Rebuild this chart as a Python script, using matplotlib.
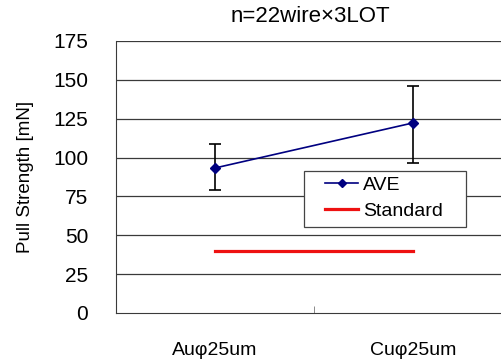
import matplotlib.pyplot as plt
from matplotlib.patches import Rectangle
import numpy as np

plt.rcParams['font.family'] = ['Liberation Sans', 'DejaVu Sans']

categories = ['Auφ25um', 'Cuφ25um']
ave = [93.3, 122.3]
err_high = [108.7, 146.0]
err_low = [79.1, 96.5]
standard = [40, 40]
yticks = [0, 25, 50, 75, 100, 125, 150, 175]

W, H = 501, 360
x = np.arange(len(categories))
ave = np.array(ave)
yerr = [ave - np.array(err_low), np.array(err_high) - ave]

fig = plt.figure(figsize=(W / 100, H / 100), dpi=100)
ax = fig.add_axes([116 / W, 47 / H, 396 / W, 272 / H])

# grid lines drawn as plain horizontal lines
for t in yticks[1:]:
    ax.axhline(t, color='#3a3a3a', lw=0.9, zorder=0)

ax.errorbar(x, ave, yerr=yerr, fmt='none', ecolor='black', elinewidth=1.2,
            capsize=4, capthick=1.2, zorder=2)
ax.plot(x, ave, color='#000080', marker='D', markersize=5.5, lw=1.2,
        label='AVE', zorder=3)
ax.plot(x, standard, color='#ee1111', lw=2.3, label='Standard', zorder=3)

ax.set_xlim(-0.5, 1.5)
ax.set_ylim(0, 175)
ax.set_yticks(yticks)
ax.set_xticks(x)
ax.set_xticklabels(categories)
ax.set_xticks([0.5], minor=True)
ax.tick_params(axis='x', which='major', length=0, pad=21, labelsize=14)
ax.tick_params(axis='x', which='minor', length=5, direction='in', color='#777777')
ax.tick_params(axis='y', length=0, pad=20, labelsize=15)

for side in ['top', 'right']:
    ax.spines[side].set_visible(False)
ax.spines['left'].set_color('#3a3a3a')
ax.spines['bottom'].set_color('#3a3a3a')

ax.set_ylabel('Pull Strength [mN]', fontsize=13.5, labelpad=14)
fig.text(310 / W, 1 - 17 / H, 'n=22wire×3LOT', ha='center', va='center',
         fontsize=16)

# legend box, wider padding on the sides than matplotlib's uniform borderpad
ax.add_patch(Rectangle((304 / W, 1 - 227 / H), 162 / W, 56 / H,
                       transform=fig.transFigure, facecolor='white',
                       edgecolor='#444444', lw=0.9, zorder=4, clip_on=False))
leg = ax.legend(loc='upper left', bbox_to_anchor=(325 / W, 1 - 176 / H),
                bbox_transform=fig.transFigure, fontsize=14, frameon=False,
                handlelength=1.7, borderaxespad=0, borderpad=0,
                labelspacing=0.45, handletextpad=0.25, markerscale=0.8)
leg.set_zorder(5)

fig.savefig('out.png', dpi=100)
